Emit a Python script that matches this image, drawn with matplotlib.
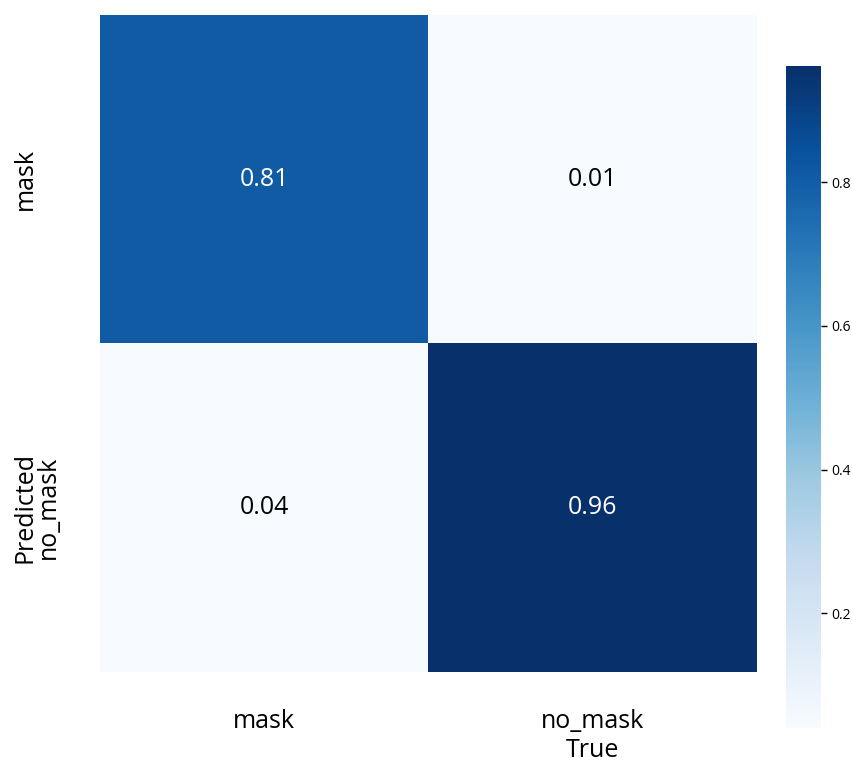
import numpy as np
import matplotlib
matplotlib.use('Agg')
import matplotlib.pyplot as plt
import matplotlib.transforms as mtransforms

# confusion matrix, normalised per true class (columns)
names = ['mask', 'no_mask']
conf = np.array([[0.81, 0.01],
                 [0.04, 0.96]])
cbar_ticks = [0.2, 0.4, 0.6, 0.8]
vmin, vmax = 0.04, 0.962

plt.rcParams['font.family'] = ['Open Sans', 'DejaVu Sans']

fig = plt.figure(figsize=(8.53, 7.64), dpi=100)
ax = fig.add_axes([0.1172, 0.1204, 0.7702, 0.8600])
cax = fig.add_axes([0.9215, 0.0471, 0.041, 0.8665])

n = len(names)
h = ax.pcolormesh(np.arange(n + 1), np.arange(n + 1), conf, cmap='Blues',
                  vmin=vmin, vmax=vmax)
ax.set_xlim(0, n)
ax.set_ylim(n, 0)
for i in range(n):
    for j in range(n):
        v = conf[i, j]
        col = 'white' if (v - vmin) / (vmax - vmin) > 0.5 else 'black'
        ax.text(j + 0.5, i + 0.5, '%.2f' % v, ha='center', va='center',
                fontsize=18, color=col)

ax.set_xticks(np.arange(n) + 0.5)
ax.set_yticks(np.arange(n) + 0.5)
ax.set_xticklabels(names, fontsize=18)
ax.set_yticklabels(names, fontsize=18, rotation=90, va='center')
ax.tick_params(axis='x', length=0, pad=26.5)
ax.tick_params(axis='y', length=0, pad=28.5)
# first row label sits further out, in line with the axis title
lab = ax.get_yticklabels()[0]
lab.set_transform(lab.get_transform() +
                  mtransforms.ScaledTranslation(-0.23, 0, fig.dpi_scale_trans))
for s in ax.spines.values():
    s.set_visible(False)

ax.set_xlabel('True', fontsize=18)
ax.set_ylabel('Predicted', fontsize=18)
ax.xaxis.set_label_coords(0.75, -0.10)
ax.yaxis.set_label_coords(-0.095, 0.25)

cb = fig.colorbar(h, cax=cax)
cb.set_ticks(cbar_ticks)
cb.ax.tick_params(labelsize=10, length=4, width=1)
cb.outline.set_visible(False)

fig.savefig('out.png', dpi=100)
